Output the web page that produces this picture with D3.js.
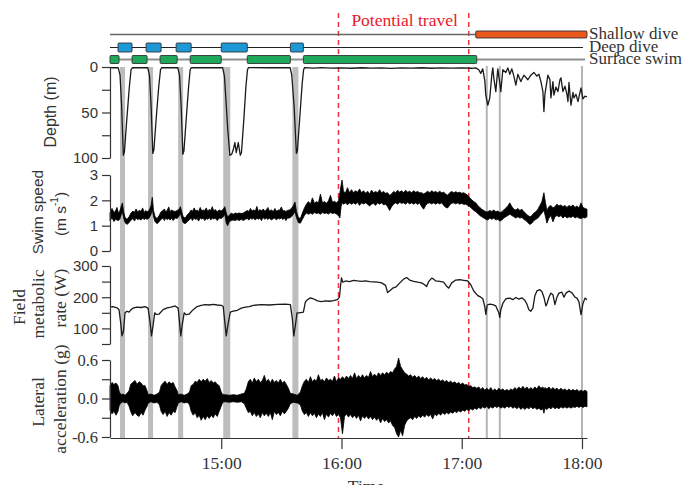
<!DOCTYPE html>
<html>
<head>
<meta charset="utf-8">
<script src="https://cdn.jsdelivr.net/npm/d3@7"></script>
<style>
  body { margin: 0; background: #fff; }
  .serif { font-family: "Liberation Serif", "Times New Roman", serif; }
  .sans { font-family: "Liberation Sans", Arial, sans-serif; }
</style>
</head>
<body>
<svg id="chart" width="690" height="485"></svg>
<script>
// All times are minutes after 14:00.

// Behaviour bars
const surfaceSwim = [[4.5, 9], [15.5, 23], [29.5, 38], [44.5, 60], [73, 94.5], [101, 187.5]];
const deepDive = [[8.5, 15.5], [22.5, 30], [37.5, 45], [60, 73], [94.5, 101]];
const shallowDive = [[187, 242.5]];

// Bottom phases of deep dives (bands) and selected shallow dives (thin lines)
const diveBands = [[9.5, 12], [23.5, 26], [38.5, 41], [61, 64.5], [95.5, 98.5]];
const diveLines = [192.5, 199, 240];

// Period of potential travel
const travelPeriod = [118.5, 183.5];

// Axis ticks
const timeTicks = ["15:00", "16:00", "17:00", "18:00"];
const depthTicks = [0, 25, 50, 75, 100];
const depthLabels = [0, 50, 100];
const speedTicks = [0, 1, 2, 3];
const fmrTicks = [50, 100, 150, 200, 250, 300];
const fmrLabels = [100, 200, 300];
const accTicks = [-0.6, -0.3, 0, 0.3, 0.6];
const accLabels = [-0.6, 0, 0.6];

// Depth (m): [time, depth]
const depth = [
  [4.5,0.6],[6,0.8],[8.6,0.6],[9.5,9],[10.3,42],[11.15,97],[11.7,93],[12.8,60],[14.1,23],[15,3],[15.7,0.6],
  [19,0.8],[23.3,0.6],[24.2,9],[25,42],[25.85,95],[26.4,91],[27.5,58],[28.8,22],[29.7,3],[30.3,0.6],
  [34,0.8],[38.3,0.6],[39.2,9],[40,42],[40.85,96],[41.4,92],[42.5,58],[43.7,22],[44.5,3],[45.1,0.6],
  [52,0.8],[60.7,0.6],[61.6,10],[62.6,45],[63.3,70],[64.3,97],[65.2,96],[66,91],[66.8,83],[67.5,94],[68.5,83],[69.5,97],[70.1,94],[71.2,60],[72.3,22],[73.1,3],[73.6,0.6],
  [84,0.8],[94.4,0.6],[95.2,9],[96.4,45],[97.5,95],[98,92],[99.2,55],[100.4,18],[101.1,3],[101.6,0.6],
  [106,1.2],[110,0.7],[115,1.3],[120,0.9],[125,1.4],[130,0.8],[135,1.2],[140,0.9],[145,1.5],[150,1],[155,1.3],[160,0.8],[165,1.4],[170,1],[175,1.2],[180,0.9],[185,1.4],[187,1],
  [188.5,3],[189.5,7],[190.5,2],[191.5,15],[192,31],[193,42],[194,34],[195,9],[195.5,1],[196,12],[197,27],[198,2],[199,18],[199.5,27],[200.5,3],
  [202,6],[203,1],[204,8],[205,2],[206,10],[207,20],[208,8],[209.5,16],[211,9],[213,14],[214.5,9],[216,6],[217.5,10],[218.5,8],[219.5,16],[220.5,27],
  [221,49],[221.5,30],[222,23],[223,9],[224,14],[224.5,34],[225.5,16],[226,31],[227,22],[228,27],[229,14],[229.5,12],[230.5,27],[231.5,21],[232.5,30],
  [233,38],[233.5,17],[234.5,42],[235.5,28],[236,34],[237,30],[238,38],[239,28],[239.5,23],[240.5,35],[241.5,32],[242.5,33]
];

// Swim speed (m/s): [time, low, high] of the recorded trace
const speed = [
  [4.5,1.2,1.5],[5.5,1.3,1.68],[6.5,1.16,1.52],[7.2,1.25,1.58],[8,1.22,1.72],[8.8,1.2,1.48],[9.5,1.28,1.6],[10.2,1.45,1.8],[10.7,1.55,1.9],[11.3,1.3,1.55],[12,1.12,1.32],
  [13,1.05,1.25],[14,1.12,1.35],[15,1.22,1.5],[16,1.28,1.58],[16.7,1.18,1.52],[17.5,1.3,1.66],[18.3,1.24,1.54],[19,1.27,1.6],[20,1.22,1.57],[20.8,1.3,1.7],
  [21.5,1.24,1.52],[22.3,1.28,1.6],[23,1.25,1.55],[24,1.3,1.6],[25,1.45,1.8],[25.6,1.65,2.12],[26.2,1.35,1.6],[27,1.15,1.35],[28,1.08,1.28],[29,1.15,1.4],[30,1.25,1.55],[31,1.3,1.6],
  [31.6,1.2,1.66],[32.3,1.3,1.55],[33,1.24,1.6],[33.8,1.28,1.74],[34.5,1.22,1.56],[35.3,1.3,1.62],[36,1.2,1.58],[37,1.3,1.56],[38,1.28,1.6],[39,1.38,1.65],[39.6,1.5,1.75],[40.3,1.3,1.55],
  [41,1.12,1.35],[42,1.08,1.3],[43,1.15,1.42],[44,1.22,1.5],[45,1.3,1.62],[45.6,1.2,1.56],[46.5,1.3,1.7],[47.2,1.24,1.58],[48,1.28,1.62],[48.7,1.18,1.55],[49.5,1.3,1.72],[50.3,1.26,1.58],
  [51,1.3,1.62],[51.8,1.2,1.6],[52.5,1.28,1.7],[53.3,1.25,1.56],[54,1.32,1.64],[54.8,1.22,1.6],[55.5,1.3,1.75],[56.3,1.26,1.58],[57,1.3,1.64],[58,1.2,1.55],[59,1.3,1.62],[60,1.28,1.58],
  [61,1.35,1.65],[61.8,1.45,1.75],[62.5,1.1,1.5],[63.2,1.0,1.35],[64,1.15,1.4],[65,1.2,1.5],[66,1.22,1.45],[67,1.2,1.5],[68,1.24,1.48],[69,1.2,1.5],
  [70,1.25,1.48],[71,1.2,1.5],[72,1.25,1.55],[73,1.28,1.6],[73.8,1.22,1.56],[74.6,1.3,1.68],[75.3,1.25,1.58],[76,1.3,1.62],[77,1.22,1.58],[77.8,1.3,1.76],[78.5,1.25,1.56],[79.3,1.3,1.64],
  [80,1.2,1.58],[81,1.32,1.66],[81.7,1.25,1.57],[82.5,1.3,1.62],[83.3,1.24,1.72],[84,1.3,1.58],[85,1.22,1.62],[86,1.28,1.56],[86.8,1.3,1.68],[87.5,1.22,1.57],[88.4,1.3,1.62],[89,1.26,1.6],
  [90,1.3,1.74],[90.8,1.24,1.58],[91.5,1.3,1.6],[92.3,1.2,1.56],[93,1.3,1.6],[94,1.3,1.62],[95,1.35,1.68],[96,1.45,1.8],[96.8,1.55,1.93],[97.6,1.3,1.55],[98.5,1.12,1.32],
  [99.5,1.1,1.28],[100.5,1.25,1.5],[101.5,1.4,1.7],[102.5,1.5,1.85],[103.5,1.45,1.95],[104.5,1.5,1.85],[105.5,1.45,2.1],[106.5,1.52,1.88],[107.5,1.48,1.95],[108.5,1.5,1.9],
  [109.5,1.45,2.25],[110.5,1.52,1.9],[111.5,1.48,1.95],[112.5,1.5,1.88],[113.5,1.46,1.98],[114.5,1.52,2.2],[115.5,1.48,1.92],[116.5,1.5,1.96],[117.5,1.46,1.9],[118.5,1.4,1.98],
  [119.2,1.3,2.3],[119.8,1.75,2.6],[120.3,1.9,2.8],[121,1.85,2.35],[122,1.9,2.3],[123,1.82,2.5],[124,1.9,2.3],[125,1.85,2.42],[126,1.9,2.3],[127,1.85,2.38],
  [128,1.92,2.32],[129,1.8,2.45],[130,1.9,2.3],[131,1.86,2.38],[132,1.9,2.28],[133,1.85,2.36],[134,1.78,2.25],[135,1.85,2.4],[136,1.88,2.3],[137,1.8,2.35],
  [138,1.9,2.3],[139,1.85,2.42],[140,1.9,2.3],[141,1.82,2.35],[142,1.85,2.28],[143,1.75,2.3],[144,1.6,2.2],[145,1.75,2.25],[146,1.85,2.35],[147,1.9,2.3],
  [148,1.85,2.4],[149,1.92,2.32],[150,1.88,2.38],[151,1.9,2.3],[152,1.85,2.4],[153,1.92,2.32],[154,1.86,2.36],[155,1.9,2.3],[156,1.85,2.38],[157,1.9,2.32],
  [158,1.84,2.35],[159,1.9,2.3],[160,1.75,2.3],[161,1.65,2.25],[162,1.8,2.3],[163,1.88,2.36],[164,1.9,2.3],[165,1.86,2.38],[166,1.9,2.32],[167,1.85,2.35],
  [168,1.9,2.3],[169,1.86,2.36],[170,1.9,2.3],[171,1.8,2.32],[172,1.72,2.25],[173,1.7,2.2],[174,1.82,2.3],[175,1.88,2.35],[176,1.9,2.3],[177,1.86,2.34],
  [178,1.9,2.3],[179,1.85,2.32],[180,1.88,2.28],[181,1.84,2.3],[182,1.85,2.25],[183,1.8,2.2],[184,1.75,2.1],[185,1.68,2.02],[186,1.6,1.95],[187,1.55,1.9],
  [188,1.48,1.8],[189,1.4,1.72],[190,1.35,1.65],[191,1.3,1.6],[192,1.25,1.55],[193,1.22,1.55],[194,1.3,1.6],[195,1.25,1.56],[196,1.3,1.62],[197,1.22,1.55],
  [198,1.25,1.58],[199,1.18,1.52],[200,1.22,1.55],[201,1.3,1.62],[202,1.35,1.7],[203,1.4,1.78],[204,1.45,1.9],[205,1.4,1.75],[206,1.35,1.65],[207,1.3,1.62],
  [208,1.35,1.68],[209,1.3,1.6],[210,1.32,1.65],[211,1.25,1.55],[212,1.2,1.48],[213,1.12,1.4],[214,1.05,1.35],[215,1.1,1.4],[216,1.2,1.5],[217,1.25,1.55],
  [218,1.3,1.65],[219,1.4,1.8],[220,1.5,1.95],[221,1.6,2.3],[221.8,1.35,1.9],[222.5,1.1,1.6],[223.5,1.3,1.75],[224.5,1.4,1.8],[225.5,1.15,1.7],[226.5,1.35,1.75],
  [227.5,1.4,1.85],[228.5,1.35,1.78],[229.5,1.4,1.82],[230.5,1.3,1.75],[231.5,1.38,1.8],[232.5,1.3,1.72],[233.5,1.35,1.8],[234.5,1.32,1.75],[235.5,1.38,1.82],[236.5,1.3,1.72],
  [237.5,1.35,1.78],[238.5,1.3,1.7],[239.5,1.28,1.9],[240.5,1.32,1.72],[241.5,1.3,1.68],[242.5,1.35,1.65]
];

// Field metabolic rate (W): [time, value]
const fmr = [
  [4.5,168],[6,170],[8,166],[9,160],[9.8,120],[10.5,76],[11.2,90],[12,150],[13,155],[14,152],[15,160],[16,165],[18,168],[20,167],[22,170],
  [23.5,165],[24.5,120],[25.2,76],[26,110],[26.8,150],[27.5,145],[29,146],[31,160],[33,166],[35,168],[37,172],[38.5,165],[39.2,120],[39.8,76],
  [40.5,110],[41.5,150],[42.5,144],[44,146],[46,160],[48,170],[50,174],[52,176],[54,175],[56,177],[58,175],[60,174],[61,170],[61.8,120],[62.5,76],
  [63.3,110],[64.5,152],[66,155],[68,158],[70,165],[72,168],[74,170],[76,174],[80,176],[84,175],[88,177],[92,178],[94.5,176],[95.5,130],[96.2,76],
  [97,110],[97.8,150],[99,150],[101,152],[102,185],[103,192],[104.5,198],[106,195],[108,188],[110,186],[112,188],[114,187],[116,189],[118,192],
  [119,200],[119.5,235],[120,262],[120.7,248],[122,252],[124,250],[126,254],[128,252],[130,251],[132,252],[134,250],[136,249],[138,248],[140,246],
  [142,238],[143,215],[144,220],[145.5,229],[147,232],[149,245],[151,258],[152.5,263],[154,255],[156,251],[158,248],[160,246],[161.5,240],[162.5,234],
  [163.5,250],[165,261],[166,258],[167,252],[169,251],[171,248],[172.5,235],[173.5,229],[175,246],[177,255],[179,256],[181,254],[183,252],[184.5,240],
  [186,220],[188,205],[189.5,200],[190.5,195],[191.5,170],[192,145],[192.7,175],[194,178],[195.5,176],[197,172],[198.5,150],[199,135],[199.5,160],
  [200.5,180],[202,195],[204,197],[205.5,192],[207,199],[208.5,194],[210,198],[211.5,190],[212.5,178],[213.5,160],[214.5,155],[215.5,165],[216.5,205],
  [217.5,220],[219,224],[220,218],[221,200],[222,172],[222.5,178],[223.5,200],[224.5,213],[225.5,208],[226.5,176],[227.5,200],[228.5,213],[230,216],
  [231,200],[232,213],[233.5,220],[235,214],[236.5,200],[237.5,197],[238.5,185],[239.5,144],[240.5,180],[241.5,197],[242.5,192]
];

// Lateral acceleration (g): [time, low, high] of the recorded trace
const accel = [
  [4.5,-0.18,0.2],[5.5,-0.24,0.25],[6.5,-0.2,0.22],[7.5,-0.26,0.24],[8.5,-0.2,0.2],[9.2,-0.1,0.1],[10,-0.07,0.06],[11,-0.05,0.07],[12,-0.07,0.05],[13,-0.06,0.08],
  [14,-0.12,0.12],[14.8,-0.2,0.22],[15.8,-0.27,0.25],[17,-0.22,0.28],[18,-0.26,0.22],[19,-0.28,0.26],[20,-0.22,0.24],[21,-0.26,0.2],[22,-0.18,0.2],[23,-0.12,0.12],
  [23.6,-0.07,0.06],[25,-0.05,0.07],[26.5,-0.07,0.05],[28,-0.06,0.07],[29.2,-0.1,0.1],[30,-0.2,0.2],[31,-0.25,0.24],[32,-0.2,0.27],[33,-0.28,0.22],[34,-0.22,0.26],
  [35,-0.26,0.23],[36,-0.2,0.25],[37,-0.22,0.18],[38,-0.12,0.12],[38.6,-0.07,0.06],[40,-0.05,0.07],[41.5,-0.07,0.05],[43,-0.06,0.07],[44.2,-0.1,0.1],[45,-0.2,0.2],
  [46,-0.26,0.22],[47,-0.22,0.27],[48,-0.3,0.25],[49,-0.26,0.3],[50,-0.34,0.26],[51,-0.28,0.3],[52,-0.33,0.27],[53,-0.27,0.31],[54,-0.31,0.25],[55,-0.26,0.28],
  [56,-0.3,0.24],[57,-0.24,0.26],[58,-0.28,0.22],[59,-0.2,0.2],[60,-0.12,0.1],[60.8,-0.06,0.06],[62,-0.05,0.06],[64,-0.06,0.05],[66,-0.05,0.06],[68,-0.06,0.05],
  [70,-0.05,0.07],[71.5,-0.08,0.08],[72.5,-0.15,0.15],[73.5,-0.22,0.26],[74.5,-0.2,0.3],[75.5,-0.27,0.24],[76.5,-0.22,0.32],[77.5,-0.28,0.26],[78.5,-0.24,0.3],[79.5,-0.3,0.25],
  [80.5,-0.22,0.28],[81.5,-0.27,0.36],[82.5,-0.23,0.26],[83.5,-0.28,0.3],[84.5,-0.22,0.24],[85.5,-0.33,0.3],[86.5,-0.2,0.25],[87.5,-0.25,0.28],[88.5,-0.22,0.24],[89.5,-0.27,0.3],
  [90.5,-0.2,0.24],[91.5,-0.24,0.27],[92.5,-0.2,0.22],[93.5,-0.15,0.16],[94.5,-0.08,0.08],[96,-0.06,0.07],[98,-0.07,0.05],[99.5,-0.1,0.1],[100.5,-0.2,0.2],[101.5,-0.25,0.27],
  [102.5,-0.22,0.3],[103.5,-0.28,0.25],[104.5,-0.22,0.34],[105.5,-0.27,0.26],[106.5,-0.23,0.3],[107.5,-0.3,0.27],[108.5,-0.24,0.37],[109.5,-0.28,0.28],[110.5,-0.22,0.3],[111.5,-0.33,0.26],
  [112.5,-0.24,0.32],[113.5,-0.29,0.28],[114.5,-0.23,0.3],[115.5,-0.27,0.27],[116.5,-0.22,0.35],[117.5,-0.28,0.26],[118.5,-0.25,0.32],[119.5,-0.3,0.3],[120.5,-0.55,0.34],[121.5,-0.28,0.3],
  [122.5,-0.24,0.35],[123.5,-0.29,0.31],[124.5,-0.25,0.36],[125.5,-0.3,0.31],[126.5,-0.26,0.4],[127.5,-0.31,0.31],[128.5,-0.26,0.36],[129.5,-0.35,0.32],[130.5,-0.27,0.37],[131.5,-0.31,0.32],
  [132.5,-0.27,0.36],[133.5,-0.32,0.33],[134.5,-0.28,0.42],[135.5,-0.33,0.34],[136.5,-0.29,0.38],[137.5,-0.34,0.34],[138.5,-0.3,0.4],[139.5,-0.38,0.36],[140.5,-0.31,0.4],[141.5,-0.36,0.37],
  [142.5,-0.33,0.41],[143.5,-0.38,0.38],[144.5,-0.35,0.42],[145.5,-0.42,0.4],[146.5,-0.45,0.46],[147.5,-0.55,0.5],[148.5,-0.6,0.63],[149.5,-0.5,0.5],[150.5,-0.58,0.45],[151.5,-0.42,0.4],
  [152.5,-0.35,0.38],[153.5,-0.32,0.35],[154.5,-0.3,0.37],[155.5,-0.33,0.33],[156.5,-0.28,0.36],[157.5,-0.31,0.32],[158.5,-0.27,0.35],[159.5,-0.3,0.31],[160.5,-0.26,0.34],[161.5,-0.29,0.3],
  [162.5,-0.25,0.33],[163.5,-0.28,0.29],[164.5,-0.25,0.32],[165.5,-0.32,0.29],[166.5,-0.24,0.31],[167.5,-0.27,0.28],[168.5,-0.23,0.3],[169.5,-0.26,0.27],[170.5,-0.22,0.29],[171.5,-0.25,0.26],
  [172.5,-0.22,0.28],[173.5,-0.24,0.25],[174.5,-0.21,0.27],[175.5,-0.23,0.24],[176.5,-0.2,0.26],[177.5,-0.22,0.23],[178.5,-0.19,0.25],[179.5,-0.21,0.22],[180.5,-0.18,0.24],[181.5,-0.2,0.21],
  [182.5,-0.17,0.22],[183.5,-0.19,0.19],[184.5,-0.16,0.2],[185.5,-0.18,0.17],[186.5,-0.15,0.18],[187.5,-0.17,0.16],[188.5,-0.14,0.18],[189.5,-0.16,0.14],[190.5,-0.13,0.17],[191.5,-0.15,0.13],
  [192.5,-0.12,0.16],[193.5,-0.16,0.13],[194.5,-0.13,0.17],[195.5,-0.15,0.12],[196.5,-0.12,0.15],[197.5,-0.14,0.12],[198.5,-0.12,0.16],[199.5,-0.15,0.13],[200.5,-0.13,0.15],[201.5,-0.15,0.12],
  [202.5,-0.12,0.14],[203.5,-0.14,0.12],[204.5,-0.12,0.15],[205.5,-0.15,0.13],[206.5,-0.13,0.17],[207.5,-0.16,0.14],[208.5,-0.13,0.18],[209.5,-0.17,0.15],[210.5,-0.14,0.19],[211.5,-0.17,0.15],
  [212.5,-0.14,0.18],[213.5,-0.16,0.14],[214.5,-0.13,0.17],[215.5,-0.16,0.14],[216.5,-0.14,0.18],[217.5,-0.17,0.15],[218.5,-0.15,0.2],[219.5,-0.18,0.16],[220.5,-0.16,0.18],[221,-0.23,0.15],
  [221.5,-0.15,0.17],[222.5,-0.17,0.15],[223.5,-0.14,0.18],[224.5,-0.16,0.14],[225.5,-0.13,0.17],[226.5,-0.16,0.14],[227.5,-0.14,0.16],[228.5,-0.16,0.13],[229.5,-0.13,0.16],[230.5,-0.15,0.13],
  [231.5,-0.13,0.15],[232.5,-0.15,0.12],[233.5,-0.13,0.15],[234.5,-0.15,0.12],[235.5,-0.13,0.14],[236.5,-0.14,0.12],[237.5,-0.12,0.14],[238.5,-0.14,0.11],[239.5,-0.12,0.13],[240.5,-0.14,0.11],
  [241.5,-0.12,0.13],[242.5,-0.13,0.11]
];

// ---------------------------------------------------------------------------
const base = new Date(2000, 0, 1, 14, 0, 0);
const toDate = m => new Date(base.getTime() + m * 60000);
const parseHM = s => { const [h, m] = s.split(":").map(Number); return new Date(2000, 0, 1, h, m, 0); };

const svg = d3.select("#chart");
const textCol = "#333";

const x = d3.scaleTime().domain([toDate(4.5), toDate(242.5)]).range([110, 587]);
const yDepth = d3.scaleLinear().domain([0, 100]).range([67, 158]);
const ySpeed = d3.scaleLinear().domain([0, 3]).range([251, 175]);
const yFmr = d3.scaleLinear().domain([50, 300]).range([344, 266]);
const yAcc = d3.scaleLinear().domain([-0.6, 0.6]).range([437, 360]);

const plotTop = yDepth(0), plotBottom = 438;

// Dive bottom bands and lines
svg.append("g").selectAll("rect").data(diveBands).join("rect")
  .attr("x", d => x(toDate(d[0])))
  .attr("width", d => x(toDate(d[1])) - x(toDate(d[0])))
  .attr("y", plotTop).attr("height", plotBottom - plotTop)
  .attr("fill", "#bdbdbd");
svg.append("g").selectAll("line").data(diveLines).join("line")
  .attr("x1", d => x(toDate(d))).attr("x2", d => x(toDate(d)))
  .attr("y1", plotTop - 1).attr("y2", plotBottom)
  .attr("stroke", "#b5b5b5").attr("stroke-width", 2);

// Travel period markers
svg.append("g").selectAll("line").data(travelPeriod).join("line")
  .attr("x1", d => x(toDate(d))).attr("x2", d => x(toDate(d)))
  .attr("y1", 13).attr("y2", plotBottom)
  .attr("stroke", "#e8343f").attr("stroke-width", 1.5)
  .attr("stroke-dasharray", "5,4");
svg.append("text").attr("class", "serif")
  .attr("x", (x(toDate(travelPeriod[0])) + x(toDate(travelPeriod[1]))) / 2 + 1)
  .attr("y", 26).attr("text-anchor", "middle")
  .attr("font-size", 17.5).attr("fill", "#e8192c")
  .text("Potential travel");

// Behaviour rows
const rows = [
  { name: "Shallow dive", y: 34.5, h: 7, data: shallowDive, fill: "#e8571c", line: "#666", lw: 1.5, end: 586 },
  { name: "Deep dive", y: 47.5, h: 9, data: deepDive, fill: "#1b98d5", line: "#222", lw: 1.2, end: 583 },
  { name: "Surface swim", y: 59.5, h: 8, data: surfaceSwim, fill: "#1ea85a", line: "#8f8f8f", lw: 2, end: 585 }
];
rows.forEach(r => {
  const g = svg.append("g");
  g.append("line").attr("x1", 110).attr("x2", r.end)
    .attr("y1", r.y).attr("y2", r.y)
    .attr("stroke", r.line).attr("stroke-width", r.lw);
  g.selectAll("rect").data(r.data).join("rect")
    .attr("x", d => x(toDate(d[0])))
    .attr("width", d => x(toDate(d[1])) - x(toDate(d[0])))
    .attr("y", r.y - r.h / 2).attr("height", r.h)
    .attr("rx", 1)
    .attr("fill", r.fill).attr("stroke", "#333").attr("stroke-width", 0.9);
  g.append("text").attr("class", "serif")
    .attr("x", 589).attr("y", r.y + 4.5)
    .attr("font-size", 17).attr("fill", textCol)
    .text(r.name);
});

// Depth trace
svg.append("path").datum(depth)
  .attr("fill", "none").attr("stroke", "#1a1a1a").attr("stroke-width", 1.3)
  .attr("stroke-linejoin", "round")
  .attr("d", d3.line().x(d => x(toDate(d[0]))).y(d => yDepth(d[1])));

// Swim speed trace (range of the high-rate signal)
svg.append("path").datum(speed)
  .attr("fill", "#000").attr("stroke", "#000").attr("stroke-width", 0.8)
  .attr("d", d3.area().x(d => x(toDate(d[0]))).y0(d => ySpeed(d[1])).y1(d => ySpeed(d[2])));

// Field metabolic rate
svg.append("path").datum(fmr)
  .attr("fill", "none").attr("stroke", "#1a1a1a").attr("stroke-width", 1.3)
  .attr("stroke-linejoin", "round")
  .attr("d", d3.line().x(d => x(toDate(d[0]))).y(d => yFmr(d[1])));

// Lateral acceleration (range of the high-rate signal)
svg.append("path").datum(accel)
  .attr("fill", "#000").attr("stroke", "#000").attr("stroke-width", 0.8)
  .attr("d", d3.area().x(d => x(toDate(d[0]))).y0(d => yAcc(d[1])).y1(d => yAcc(d[2])));

// Axes
function styleAxis(g, fontClass, size) {
  g.selectAll(".domain").attr("stroke", "#333").attr("stroke-width", 1.2);
  g.selectAll(".tick line").attr("stroke", "#333").attr("stroke-width", 1.2);
  g.selectAll(".tick text").attr("class", fontClass).attr("font-size", size).attr("fill", textCol)
    .attr("font-family", null);
}

const axDepth = svg.append("g").attr("transform", "translate(110,0)")
  .call(d3.axisLeft(yDepth).tickValues(depthTicks).tickSize(8).tickSizeOuter(0).tickPadding(4)
    .tickFormat(d => depthLabels.includes(d) ? d : ""));
styleAxis(axDepth, "sans", 15);

const axSpeed = svg.append("g").attr("transform", "translate(110,0)")
  .call(d3.axisLeft(ySpeed).tickValues(speedTicks).tickSize(8).tickSizeOuter(0).tickPadding(4)
    .tickFormat(d3.format("d")));
styleAxis(axSpeed, "sans", 15);

const axFmr = svg.append("g").attr("transform", "translate(110,0)")
  .call(d3.axisLeft(yFmr).tickValues(fmrTicks).tickSize(8).tickSizeOuter(0).tickPadding(4)
    .tickFormat(d => fmrLabels.includes(d) ? d : ""));
styleAxis(axFmr, "sans", 15);

const axAcc = svg.append("g").attr("transform", "translate(110,0)")
  .call(d3.axisLeft(yAcc).tickValues(accTicks).tickSize(8).tickSizeOuter(0).tickPadding(4)
    .tickFormat(d => accLabels.includes(d) ? d.toFixed(1).replace("\u2212", "-") : ""));
styleAxis(axAcc, "serif", 16.5);

const axTime = svg.append("g").attr("transform", `translate(0,${plotBottom})`)
  .call(d3.axisBottom(x).tickValues(timeTicks.map(parseHM)).tickSize(11).tickSizeOuter(0).tickPadding(8)
    .tickFormat(d3.timeFormat("%H:%M")));
styleAxis(axTime, "serif", 17.5);

svg.append("text").attr("class", "serif")
  .attr("x", 366).attr("y", 492).attr("text-anchor", "middle")
  .attr("font-size", 17.5).attr("fill", textCol).text("Time");

// Y-axis titles
function vLabel(cx, cy, txt, cls, size) {
  return svg.append("text").attr("class", cls)
    .attr("transform", `translate(${cx},${cy}) rotate(-90)`)
    .attr("text-anchor", "middle").attr("dominant-baseline", "central")
    .attr("font-size", size).attr("fill", textCol).text(txt);
}
vLabel(50, 112, "Depth (m)", "sans", 16);
vLabel(37, 212, "Swim speed", "sans", 15.5);
const unit = vLabel(60, 214, "(m s", "sans", 15.5);
unit.append("tspan").attr("baseline-shift", "super").attr("font-size", 10).text("-1");
unit.append("tspan").text(")");
vLabel(19, 307, "Field", "serif", 17.5);
vLabel(38, 304, "metabolic", "serif", 17.5);
vLabel(60, 298, "rate (W)", "serif", 17.5);
vLabel(38, 402, "Lateral", "serif", 17.5);
vLabel(60, 399, "acceleration (g)", "serif", 17.5);
</script>
</body>
</html>
